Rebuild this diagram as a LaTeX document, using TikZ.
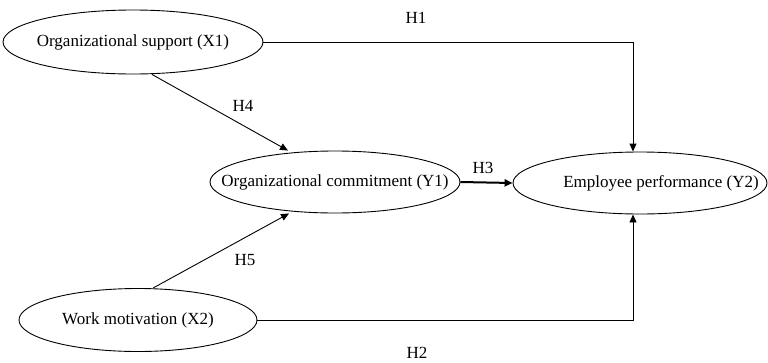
\documentclass[tikz,border=0pt]{standalone}
\usepackage{fontspec}
\setmainfont{Liberation Serif}
\usetikzlibrary{shapes.geometric,arrows.meta}

\begin{document}
\begin{tikzpicture}[x=1pt, y=-1pt, font=\fontsize{17}{20}\selectfont,
    construct/.style={draw, ellipse, inner sep=0pt, line width=0.9pt},
    path/.style={-{Triangle[length=8pt,width=7pt]}, line width=0.9pt}]
    \useasboundingbox (0,0) rectangle (768,362);

    % Exogenous
    \node (X1) [construct, minimum width=260pt, minimum height=64pt] at (133,42) {\makebox[0pt]{Organizational support (X1)}};
    \node (X2) [construct, minimum width=238pt, minimum height=63pt] at (138,320) {\makebox[0pt]{Work motivation (X2)}};

    % Endogenous
    \node (Y1) [construct, minimum width=250pt, minimum height=62pt] at (335,182) {\makebox[0pt]{Organizational commitment (Y1)}};
    \node (Y2) [construct, minimum width=254pt, minimum height=62pt] at (640,183) {\makebox[0pt]{\hspace{42pt}Employee performance (Y2)}};

    % Hypotheses
    \node (H1) at (416,18) {H1};
    \node (H2) at (417,353) {H2};
    \node (H3) at (483,168) {H3};
    \node (H4) at (243,106) {H4};
    \node (H5) at (245,260) {H5};

    % Arrows
    \draw[path] (X1.east) -| ([xshift=-7pt]Y2.north);
    \draw[path] (X2.east) -| ([xshift=-7pt]Y2.south);
    \draw[path] ([xshift=19pt]X1.south) -- ([xshift=-47pt]Y1.north);
    \draw[path] ([xshift=15pt]X2.north) -- ([xshift=-46pt]Y1.south);
    \draw[path, line width=2pt] (Y1.east) -- (Y2.west);
\end{tikzpicture}
\end{document}
